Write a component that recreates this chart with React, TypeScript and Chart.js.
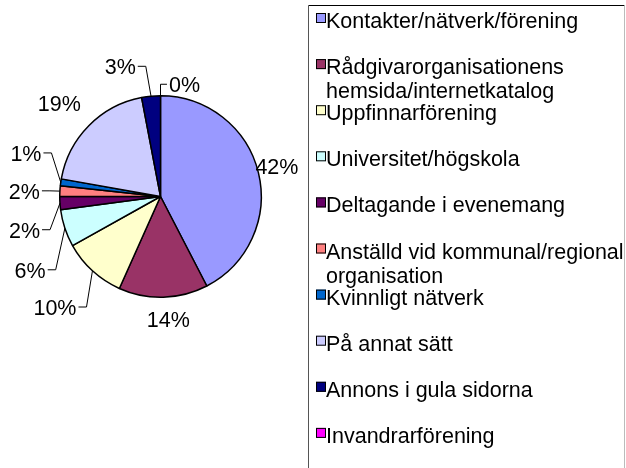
import React, { useEffect, useRef } from "react";
import { Chart, registerables } from "chart.js";

Chart.register(...registerables);

const categories = [
  "Kontakter/nätverk/förening",
  "Rådgivarorganisationens hemsida/internetkatalog",
  "Uppfinnarförening",
  "Universitet/högskola",
  "Deltagande i evenemang",
  "Anställd vid kommunal/regional organisation",
  "Kvinnligt nätverk",
  "På annat sätt",
  "Annons i gula sidorna",
  "Invandrarförening",
];

const shares = [42.4, 14.3, 10.2, 6.0, 2.1, 1.7, 1.1, 19.2, 3.0, 0];

const sliceColors = [
  "#9999FF",
  "#993366",
  "#FFFFCC",
  "#CCFFFF",
  "#660066",
  "#FF8080",
  "#0066CC",
  "#CCCCFF",
  "#000080",
  "#FF00FF",
];

// manual label drags (px) relative to the computed outside-end position
const labelNudges: [number, number][] = [
  [-16, 1],
  [4, 0],
  [-13.5, 20.5],
  [-6.7, 36],
  [-6, 27],
  [-6, 3],
  [-5.6, -24],
  [-4.3, -3.8],
  [-28, -4],
  [24, 14.5],
];
const leaderLines = [false, false, true, true, true, true, true, false, true, true];

const FONT = "'Liberation Sans', Arial, sans-serif";
const FONT_SIZE = 21.5;

const pieLabels = {
  id: "pieLabels",
  afterDatasetsDraw(chart: any) {
    const ctx = chart.ctx;
    const meta = chart.getDatasetMeta(0);
    const values: number[] = chart.data.datasets[0].data;
    const total = values.reduce((a, b) => a + b, 0);
    ctx.save();
    ctx.font = `${FONT_SIZE}px ${FONT}`;
    ctx.fillStyle = "#000";
    ctx.strokeStyle = "#000";
    ctx.lineWidth = 1;
    meta.data.forEach((arc: any, i: number) => {
      const { x, y, startAngle, endAngle, outerRadius } = arc.getProps(
        ["x", "y", "startAngle", "endAngle", "outerRadius"],
        true
      );
      const mid = (startAngle + endAngle) / 2;
      const ux = Math.cos(mid);
      const uy = Math.sin(mid);
      const text = Math.round((values[i] / total) * 100) + "%";
      const w = ctx.measureText(text).width;
      const h = 20;
      let cx = x + (outerRadius + 14) * ux + (w / 2) * ux;
      let cy = y + (outerRadius + 14) * uy + (h / 2) * uy;
      cx += labelNudges[i][0];
      cy += labelNudges[i][1];
      if (leaderLines[i]) {
        const ax = x + outerRadius * ux;
        const ay = y + outerRadius * uy;
        const toRight = ax > cx;
        const sx = toRight ? cx + w / 2 + 2 : cx - w / 2 - 2;
        const ex = toRight ? Math.min(sx + 8, ax) : Math.max(sx - 8, ax);
        ctx.beginPath();
        ctx.moveTo(sx, cy - 2);
        ctx.lineTo(ex, cy - 2);
        ctx.lineTo(ax, ay);
        ctx.stroke();
      }
      ctx.textAlign = "center";
      ctx.textBaseline = "middle";
      ctx.fillText(text, cx, cy);
    });
    ctx.restore();
  },
};

function wrap(ctx: any, text: string, maxW: number): string[] {
  const words = text.split(" ");
  const lines: string[] = [];
  let cur = "";
  for (const wd of words) {
    const test = cur ? cur + " " + wd : wd;
    if (ctx.measureText(test).width > maxW && cur) {
      lines.push(cur);
      cur = wd;
    } else {
      cur = test;
    }
  }
  if (cur) lines.push(cur);
  return lines;
}

const boxLegend = {
  id: "boxLegend",
  afterDraw(chart: any) {
    const ctx = chart.ctx;
    const labels: string[] = chart.data.labels;
    const colors: string[] = chart.data.datasets[0].backgroundColor;
    const left = 308.5;
    const top = 5.5;
    const right = 624.5;
    const bottom = chart.height + 2;
    ctx.save();
    ctx.lineWidth = 1;
    ctx.strokeStyle = "#000";
    ctx.beginPath();
    ctx.moveTo(left, top);
    ctx.lineTo(right, top);
    ctx.stroke();
    ctx.strokeStyle = "#555";
    ctx.beginPath();
    ctx.moveTo(left, top);
    ctx.lineTo(left, bottom);
    ctx.stroke();
    ctx.strokeStyle = "#bbb";
    ctx.beginPath();
    ctx.moveTo(right, top);
    ctx.lineTo(right, bottom);
    ctx.stroke();

    ctx.font = `${FONT_SIZE}px ${FONT}`;
    ctx.textAlign = "left";
    ctx.textBaseline = "alphabetic";
    const slot = 46.1;
    const firstBase = 28;
    labels.forEach((lab, i) => {
      const base = firstBase + i * slot;
      ctx.fillStyle = colors[i];
      ctx.fillRect(316, base - 15, 10, 10);
      ctx.strokeStyle = "#000";
      ctx.strokeRect(316.5, base - 14.5, 9, 9);
      ctx.fillStyle = "#000";
      const lines = wrap(ctx, lab, 298);
      lines.forEach((ln, k) => ctx.fillText(ln, 326, base + k * 24));
    });
    ctx.restore();
  },
};

export default function App() {
  const ref = useRef<HTMLCanvasElement>(null);
  useEffect(() => {
    if (!ref.current) return;
    const chart = new Chart(ref.current, {
      type: "pie",
      data: {
        labels: categories,
        datasets: [
          {
            data: shares,
            backgroundColor: sliceColors,
            borderColor: "#000",
            borderWidth: 1.5,
          },
        ],
      },
      options: {
        responsive: false,
        animation: false,
        events: [],
        layout: { padding: { left: 59, top: 95, right: 364, bottom: 170 } },
        plugins: {
          legend: { display: false },
          tooltip: { enabled: false },
          title: { display: false },
        },
      },
      plugins: [pieLabels, boxLegend],
    });
    return () => chart.destroy();
  }, []);
  return (
    <div style={{ position: "fixed", left: 0, top: 0, width: 626, height: 468, background: "#fff" }}>
      <canvas ref={ref} width={626} height={468} style={{ display: "block" }} />
    </div>
  );
}
